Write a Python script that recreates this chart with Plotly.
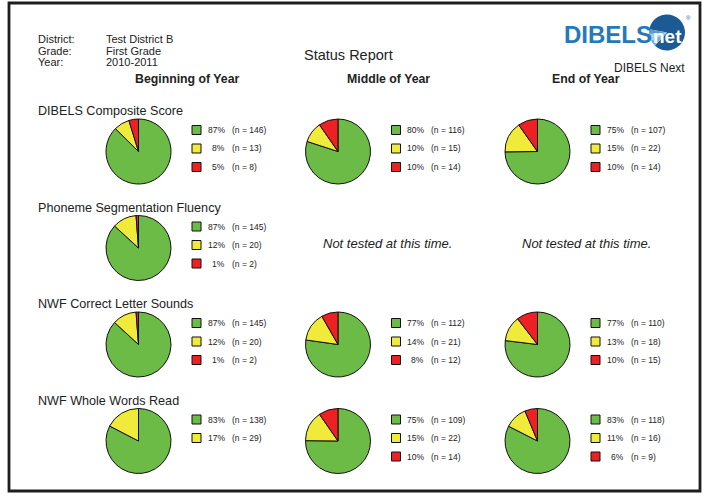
import plotly.graph_objects as go

W, H = 703, 496

# ---------------- data ----------------
periods = ["Beginning of Year", "Middle of Year", "End of Year"]
measures = ["DIBELS Composite Score", "Phoneme Segmentation Fluency",
            "NWF Correct Letter Sounds", "NWF Whole Words Read"]
levels = ["At or Above Benchmark", "Below Benchmark", "Well Below Benchmark"]
level_colors = ["#6cbb46", "#f0ea3a", "#ed2024"]

# counts per measure, per period (None = not tested)
composite_n = [[146, 13, 8], [116, 15, 14], [107, 22, 14]]
composite_pct = [[87, 8, 5], [80, 10, 10], [75, 15, 10]]
psf_n = [[145, 20, 2], None, None]
psf_pct = [[87, 12, 1], None, None]
nwf_cls_n = [[145, 20, 2], [112, 21, 12], [110, 18, 15]]
nwf_cls_pct = [[87, 12, 1], [77, 14, 8], [77, 13, 10]]
nwf_wwr_n = [[138, 29], [109, 22, 14], [118, 16, 9]]
nwf_wwr_pct = [[83, 17], [75, 15, 10], [83, 11, 6]]

all_n = [composite_n, psf_n, nwf_cls_n, nwf_wwr_n]
all_pct = [composite_pct, psf_pct, nwf_cls_pct, nwf_wwr_pct]

header_labels = ["District:", "Grade:", "Year:"]
header_values = ["Test District B", "First Grade", "2010-2011"]

logo_values = [84, 6, 6, 4]
logo_colors = ["#1b5a92", "#7fb0dc", "#a9cbea", "#5f9bd0"]

FONT = "Liberation Sans, Arial, Helvetica, sans-serif"


def px(x):
    return x / W


def py(y):
    return 1 - y / H


fig = go.Figure()
annotations = []
shapes = []

# frame
shapes.append(dict(type="rect", xref="paper", yref="paper",
                   x0=px(9), x1=px(700), y0=py(491), y1=py(3),
                   line=dict(color="#1e1e1e", width=2.8)))

# header block
for i, (lab, val) in enumerate(zip(header_labels, header_values)):
    yy = 39.5 + i * 11.5
    annotations.append(dict(x=px(36), y=py(yy), text=lab, xanchor="left", yanchor="middle",
                            showarrow=False, font=dict(family=FONT, size=11, color="#222")))
    annotations.append(dict(x=px(104), y=py(yy), text=val, xanchor="left", yanchor="middle",
                            showarrow=False, font=dict(family=FONT, size=11, color="#222")))

annotations.append(dict(x=px(348), y=py(55), text="Status Report", xanchor="center", yanchor="middle",
                        showarrow=False, font=dict(family=FONT, size=14.5, color="#222")))
annotations.append(dict(x=px(687), y=py(68), text="DIBELS Next", xanchor="right", yanchor="middle",
                        showarrow=False, font=dict(family=FONT, size=12, color="#222")))

# logo
annotations.append(dict(x=px(562), y=py(34), text="<b>DIBELS</b>", xanchor="left", yanchor="middle",
                        showarrow=False, font=dict(family=FONT, size=24, color="#2479b8")))
lcx, lcy, lr = 667, 32.5, 18
fig.add_trace(go.Pie(values=logo_values, marker=dict(colors=logo_colors, line=dict(width=0)),
                     sort=False, direction="clockwise", rotation=280, textinfo="none",
                     hoverinfo="skip", showlegend=False,
                     domain=dict(x=[px(lcx - lr), px(lcx + lr)], y=[py(lcy + lr), py(lcy - lr)])))
annotations.append(dict(x=px(667), y=py(36), text="<b>net</b>", xanchor="center", yanchor="middle",
                        showarrow=False, font=dict(family=FONT, size=19, color="white")))
annotations.append(dict(x=px(688), y=py(18), text="®", xanchor="center", yanchor="middle",
                        showarrow=False, font=dict(family=FONT, size=6, color="#1b5a92")))

# column headers
col_head_x = [187, 388, 586]
for c, name in enumerate(periods):
    annotations.append(dict(x=px(col_head_x[c]), y=py(79), text="<b>%s</b>" % name,
                            xanchor="center", yanchor="middle", showarrow=False,
                            font=dict(family=FONT, size=12.3, color="#222")))

pie_cx = [138.5, 338, 537.5]
R = 32.5
leg_dy = [-21.5, -3, 15.5]

for r, measure in enumerate(measures):
    cy = 151.5 + 96.5 * r
    annotations.append(dict(x=px(36), y=py(cy - 40.5), text=measure, xanchor="left", yanchor="middle",
                            showarrow=False, font=dict(family=FONT, size=12.6, color="#222")))
    for c in range(3):
        cx = pie_cx[c]
        n = all_n[r][c]
        pct = all_pct[r][c]
        if n is None:
            annotations.append(dict(x=px(cx + 49), y=py(cy - 4.5), text="<i>Not tested at this time.</i>",
                                    xanchor="center", yanchor="middle", showarrow=False,
                                    font=dict(family=FONT, size=13, color="#222")))
            continue
        fig.add_trace(go.Pie(
            values=n, labels=levels[:len(n)],
            marker=dict(colors=level_colors[:len(n)], line=dict(color="#111", width=1)),
            sort=False, direction="clockwise", rotation=0, textinfo="none",
            showlegend=False, hoverinfo="label+value+percent",
            domain=dict(x=[px(cx - R), px(cx + R)], y=[py(cy + R), py(cy - R)])))
        sx = cx + 58
        for k in range(len(n)):
            sy = cy + leg_dy[k]
            shapes.append(dict(type="rect", xref="paper", yref="paper",
                               x0=px(sx - 4.5), x1=px(sx + 4.5), y0=py(sy + 4.5), y1=py(sy - 4.5),
                               fillcolor=level_colors[k], line=dict(color="#111", width=1)))
            annotations.append(dict(x=px(sx + 30.5), y=py(sy), text="%d%%" % pct[k],
                                    xanchor="right", yanchor="middle", showarrow=False,
                                    font=dict(family=FONT, size=8.5, color="#222")))
            annotations.append(dict(x=px(sx + 33), y=py(sy), text="(n = %d)" % n[k],
                                    xanchor="left", yanchor="middle", showarrow=False,
                                    font=dict(family=FONT, size=8.5, color="#222")))

fig.update_layout(width=W, height=H, margin=dict(l=0, r=0, t=0, b=0),
                  paper_bgcolor="white", plot_bgcolor="white",
                  annotations=annotations, shapes=shapes, showlegend=False)

fig.write_html("out.html", config={"displayModeBar": False},
               post_script="document.body.style.margin='0';document.body.style.overflow='hidden';")
